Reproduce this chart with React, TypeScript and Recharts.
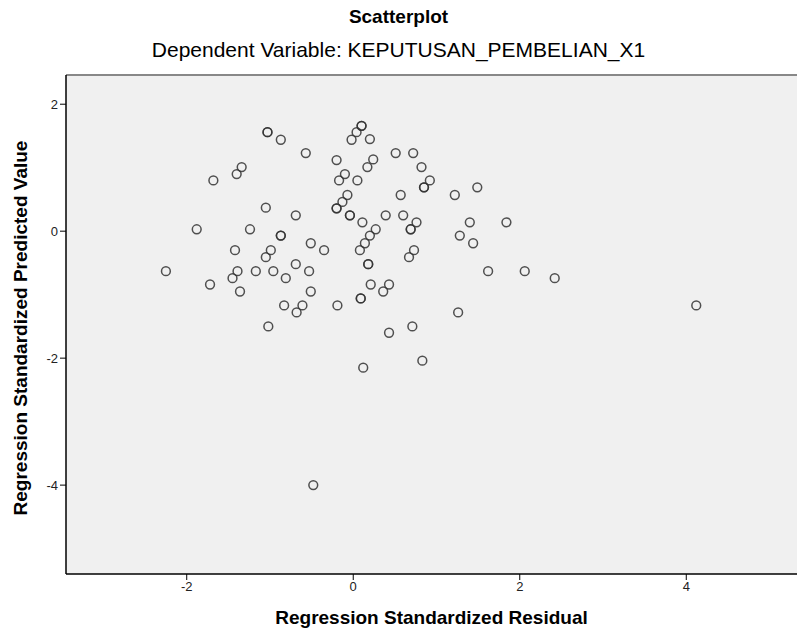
import React from "react";
import { ScatterChart, Scatter, XAxis, YAxis, CartesianGrid, ReferenceLine } from "recharts";

// Regression standardized residual (x) vs standardized predicted value (y)
const residuals = [
  -1.03, -1.03, -0.87, -0.57, -1.34, -1.4, -1.68, -1.05, -0.69, -1.88, -1.24, -0.87, -0.87,
  0.1, 0.1, 0.04, -0.02, 0.2, -0.2, 0.51, 0.72, 0.24, 0.17, 0.82, -0.1, -0.17, 0.05, 0.92,
  0.85, 0.85, 1.49, 1.22, 0.57, -0.07, -0.13, -0.2, -0.2, -0.04, -0.04, 0.39, 0.6, 0.11,
  0.76, 1.4, 1.84, 0.69, 0.69, 0.27, 0.2, 1.28, -0.51, 1.44, 0.14, -1.42, -0.99, -1.05,
  -2.25, -1.39, -1.17, -0.96, -0.69, -0.53, -1.45, -0.81, -1.72, -1.36, -0.51, -0.83,
  -0.61, -0.68, -1.02, -0.35, 0.08, 0.73, 0.67, 0.18, 0.18, 1.62, 2.06, 0.21, 0.43, 0.36,
  0.09, 0.09, -0.19, 1.26, 0.71, 0.43, 0.83, 0.12, 2.42, 4.12, -0.48,
];
const predicted = [
  1.56, 1.56, 1.44, 1.23, 1.01, 0.9, 0.8, 0.37, 0.25, 0.03, 0.03, -0.07, -0.07,
  1.66, 1.66, 1.56, 1.44, 1.45, 1.12, 1.23, 1.23, 1.13, 1.01, 1.01, 0.9, 0.8, 0.8, 0.8,
  0.69, 0.69, 0.69, 0.57, 0.57, 0.57, 0.46, 0.36, 0.36, 0.25, 0.25, 0.25, 0.25, 0.14,
  0.14, 0.14, 0.14, 0.03, 0.03, 0.03, -0.07, -0.07, -0.19, -0.19, -0.19, -0.3, -0.3, -0.41,
  -0.63, -0.63, -0.63, -0.63, -0.52, -0.63, -0.74, -0.74, -0.84, -0.95, -0.95, -1.17,
  -1.17, -1.28, -1.5, -0.3, -0.3, -0.3, -0.41, -0.52, -0.52, -0.63, -0.63, -0.84, -0.84, -0.95,
  -1.06, -1.06, -1.17, -1.28, -1.5, -1.6, -2.04, -2.15, -0.74, -1.17, -4.0,
];
const xTicks = [-2, 0, 2, 4];
const yTicks = [-4, -2, 0, 2];

const points = residuals.map((x, i) => ({ x, y: predicted[i] }));

const font = "'Liberation Sans', Arial, sans-serif";

const Ring = (props: any) => (
  <circle cx={props.cx} cy={props.cy} r={4.4} fill="none" stroke="#333" strokeOpacity={0.85} strokeWidth={1.5} />
);

export default function App() {
  return (
    <div style={{ position: "absolute", left: 0, top: 0, width: 797, height: 633, background: "#fff", fontFamily: font }}>
      <div style={{ position: "absolute", top: 6, width: 797, textAlign: "center", fontWeight: "bold", fontSize: 19 }}>
        Scatterplot
      </div>
      <div style={{ position: "absolute", top: 38, width: 797, textAlign: "center", fontSize: 21 }}>
        Dependent Variable: KEPUTUSAN_PEMBELIAN_X1
      </div>
      <ScatterChart width={797} height={633} margin={{ top: 75, right: 0, bottom: 0, left: 0 }}>
        <CartesianGrid fill="#f0f0f0" horizontal={false} vertical={false} />
        <XAxis
          type="number"
          dataKey="x"
          domain={[-3.45, 5.33]}
          ticks={xTicks}
          allowDataOverflow
          height={59}
          tickSize={6}
          axisLine={{ stroke: "#000", strokeWidth: 1.5 }}
          tickLine={{ stroke: "#000" }}
          tick={{ fill: "#222", fontSize: 13, fontFamily: font }}
        />
        <YAxis
          type="number"
          dataKey="y"
          domain={[-5.4, 2.46]}
          ticks={yTicks}
          allowDataOverflow
          width={66}
          tickSize={6}
          axisLine={{ stroke: "#000", strokeWidth: 1.5 }}
          tickLine={{ stroke: "#000" }}
          tick={{ fill: "#222", fontSize: 13, fontFamily: font }}
        />
        <ReferenceLine y={2.46} stroke="#888" strokeWidth={2} />
        <Scatter data={points} shape={<Ring />} isAnimationActive={false} />
      </ScatterChart>
      <div style={{ position: "absolute", top: 607, left: 66, width: 731, textAlign: "center", fontWeight: "bold", fontSize: 19 }}>
        Regression Standardized Residual
      </div>
      <div
        style={{
          position: "absolute",
          left: 21,
          top: 328,
          transform: "translate(-50%, -50%) rotate(-90deg)",
          whiteSpace: "nowrap",
          fontWeight: "bold",
          fontSize: 19,
        }}
      >
        Regression Standardized Predicted Value
      </div>
    </div>
  );
}
